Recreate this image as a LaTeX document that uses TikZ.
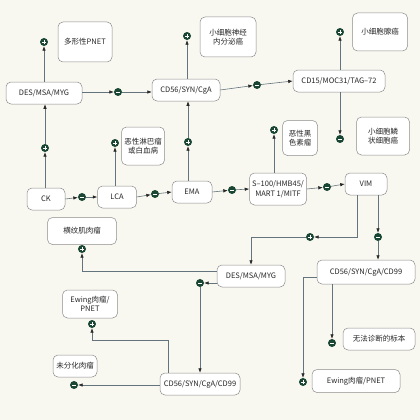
\documentclass[tikz,border=0pt]{standalone}
\usepackage{fontspec}
\setmainfont{Noto Sans CJK SC}
\usepackage{tikz}
\usetikzlibrary{arrows.meta}
\definecolor{sgnfill}{RGB}{26,70,52}
\definecolor{lnk}{RGB}{100,116,126}
\definecolor{boxln}{RGB}{140,140,140}
\definecolor{paper}{RGB}{249,248,240}
\tikzset{
  treebox/.style = {rectangle, rounded corners=5pt, draw=boxln, line width=0.5pt,
    fill=white, align=center, inner sep=1pt, text=black!85,
    font=\fontsize{7.5}{9.5}\selectfont, minimum height=22pt},% marker box
  resbox/.style = {treebox, minimum height=38pt},% diagnosis box
  sgn/.style = {circle, fill=sgnfill, inner sep=0pt, minimum size=8pt},
  sgn_p/.style = {sgn, path picture={
      \draw[white, line width=0.8pt] (path picture bounding box.center) ++(-2pt,0) -- ++(4pt,0);
      \draw[white, line width=0.8pt] (path picture bounding box.center) ++(0,-2pt) -- ++(0,4pt);}},% positive
  sgn_n/.style = {sgn, path picture={
      \draw[white, line width=0.8pt] (path picture bounding box.center) ++(-2pt,0) -- ++(4pt,0);}},% negative
  link/.style = {draw=lnk, line width=0.6pt,
    -{Latex[length=4.5pt, width=3.5pt, color=black!85]}}
}

\begin{document}
\begin{tikzpicture}[x=1pt, y=-1pt]
  \useasboundingbox (0,0) rectangle (420,420);
  \fill[paper] (0,0) rectangle (420,420);
  % markers
  \node [treebox, minimum width=76pt] (des_a) at (44,93) {DES/MSA/MYG};
  \node [treebox, minimum width=68pt] (cd56_a) at (186,90) {CD56/SYN/CgA};
  \node [treebox, minimum width=92pt] (cd15) at (339,81) {CD15/MOC31/TAG–72};
  \node [treebox, minimum width=38pt] (ck) at (46,199) {CK};
  \node [treebox, minimum width=39pt] (lca) at (117,197) {LCA};
  \node [treebox, minimum width=40pt] (ema) at (192,192) {EMA};
  \node [treebox, minimum width=57pt, minimum height=32pt] (s100) at (278,189) {S–100/HMB45/\\MART 1/MITF};
  \node [treebox, minimum width=42pt] (vim) at (366,184) {VIM};
  \node [treebox, minimum width=68pt] (des_b) at (251,276) {DES/MSA/MYG};
  \node [treebox, minimum width=98pt, minimum height=24pt] (cd99_a) at (366,272) {CD56/SYN/CgA/CD99};
  \node [treebox, minimum width=80pt] (cd99_b) at (200,384) {CD56/SYN/CgA/CD99};
  % diagnoses
  \node [resbox, minimum width=54pt, minimum height=40pt] (pnet_a) at (85,42) {多形性PNET};
  \node [resbox, minimum width=56pt, minimum height=40pt] (sncc) at (228,37) {小细胞神经\\内分泌癌};
  \node [resbox, minimum width=55pt] (sac) at (380,32) {小细胞腺癌};
  \node [resbox, minimum width=53pt] (sscc) at (383,136) {小细胞鳞\\状细胞癌};
  \node [resbox, minimum width=43pt] (lym) at (143,146) {恶性淋巴瘤\\或白血病};
  \node [resbox, minimum width=35pt, minimum height=35pt] (mel) at (300,138) {恶性黑\\色素瘤};
  \node [treebox, minimum width=69pt, minimum height=27pt] (rms) at (82,231) {横纹肌肉瘤};
  \node [treebox, minimum width=72pt] (nod) at (379,339) {无法诊断的标本};
  \node [treebox, minimum width=88pt, minimum height=23pt] (ew_a) at (356,381) {Ewing肉瘤/PNET};
  \node [treebox, minimum width=55pt, minimum height=28pt] (ew_b) at (90,304) {Ewing肉瘤/\\PNET};
  \node [treebox, minimum width=44pt] (udf) at (75,366) {未分化肉瘤};
  % signs
  \node [sgn_p] (p1) at (44,42) {};
  \node [sgn_n] (n1) at (118,92) {};
  \node [sgn_p] (p2) at (187,36) {};
  \node [sgn_n] (n2) at (257,85) {};
  \node [sgn_p] (p3) at (340,32) {};
  \node [sgn_n] (n3) at (340,139) {};
  \node [sgn_p] (p4) at (45,148) {};
  \node [sgn_n] (n4) at (82,197) {};
  \node [sgn_p] (p5) at (115,143) {};
  \node [sgn_n] (n5) at (155,194) {};
  \node [sgn_p] (p6) at (188,142) {};
  \node [sgn_n] (n6) at (232,190) {};
  \node [sgn_p] (p7) at (274,130) {};
  \node [sgn_n] (n7) at (327,187) {};
  \node [sgn_p] (p8) at (310,237) {};
  \node [sgn_n] (n8) at (378,237) {};
  \node [sgn_p] (p9) at (82,249) {};
  \node [sgn_n] (n9) at (200,283) {};
  \node [sgn_p] (p10) at (303,382) {};
  \node [sgn_n] (n10) at (332,343) {};
  \node [sgn_p] (p11) at (92,324) {};
  \node [sgn_n] (n11) at (74,385) {};
  \coordinate (k1) at (168,340);
  % connectors
  \draw [link] (des_a.north) -- (p1);
  \draw [link] (n1 -| des_a.east) -- (n1);
  \draw [link] (n1) -- (n1 -| cd56_a.west);
  \draw [link] (p2 |- cd56_a.north) -- (p2);
  \draw [link] (cd56_a.east) -- (n2);
  \draw [link] (n2) -- (cd15.west);
  \draw [link] (p3 |- cd15.north) -- (p3);
  \draw [link] (n3 |- cd15.south) -- (n3);
  \draw [link] (p4 |- ck.north) -- (p4);
  \draw [link] (p4) -- (p4 |- des_a.south);
  \draw [link] (ck.east) -- (n4);
  \draw [link] (n4) -- (lca.west);
  \draw [link] (p5 |- lca.north) -- (p5);
  \draw [link] (lca.east) -- (n5);
  \draw [link] (n5) -- (ema.west);
  \draw [link] (p6 |- ema.north) -- (p6);
  \draw [link] (p6) -- (p6 |- cd56_a.south);
  \draw [link] (ema.east) -- (n6);
  \draw [link] (n6) -- (s100.west);
  \draw [link] (p7 |- s100.north) -- (p7);
  \draw [link] (s100.east) -- (n7);
  \draw [link] (n7) -- (vim.west);
  \draw [link] ([xshift=-9pt]vim.south) |- (p8);
  \draw [link] (p8) -| (des_b.north);
  \draw [link] (n8 |- vim.south) -- (n8);
  \draw [link] (n8) -- (n8 |- cd99_a.north);
  \draw [link] ([yshift=5pt]des_b.west) -| (p9);
  \draw [link] ([yshift=-7pt]des_b.west) -- (n9);
  \draw [link] (n9) -- (n9 |- cd99_b.north);
  \draw [link] ([yshift=-5pt]cd99_a.west) -| (p10);
  \draw [link] (n10 |- cd99_a.south) -- (n10);
  \draw [link] (k1 |- cd99_b.north) -- (k1) -| (p11);
  \draw [link] (n11 -| cd99_b.west) -- (n11);
\end{tikzpicture}
\end{document}
